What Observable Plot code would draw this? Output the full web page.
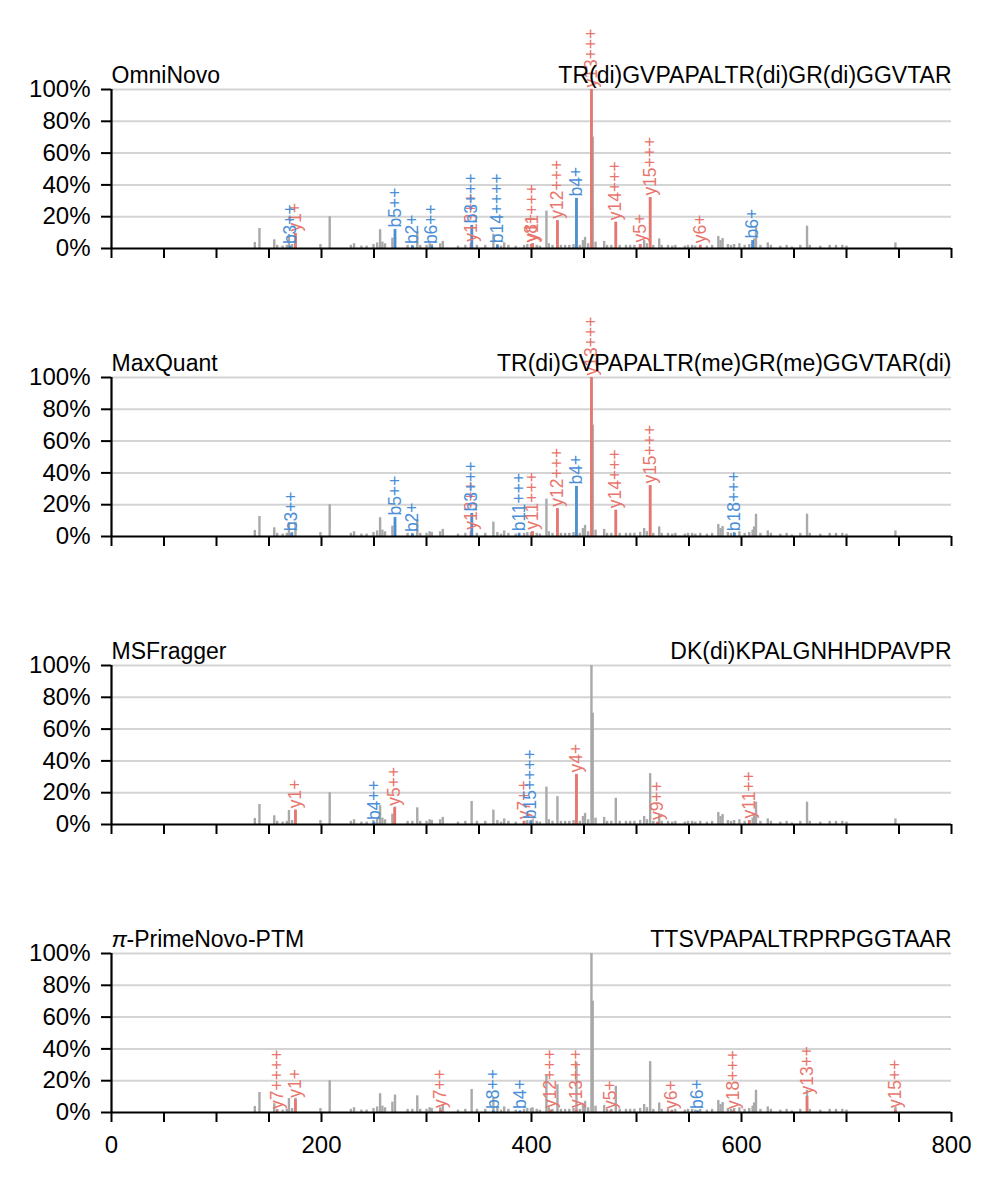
<!DOCTYPE html>
<html>
<head>
<meta charset="utf-8">
<script src="https://cdn.jsdelivr.net/npm/d3@7"></script>
<script src="https://cdn.jsdelivr.net/npm/@observablehq/plot@0.6"></script>
<style>
  body { margin: 0; background: #fff; }
  #chart svg { display: block; }
</style>
</head>
<body>
<div id="chart"></div>
<script>
// ---- shared (gray) spectrum: m/z and relative intensity (%) ----
const grayMz = [136.5,140.9,155.0,157.8,163.0,167.0,169.0,172.0,175.2,199.0,207.8,228.0,231.0,238.0,243.0,249.5,253.0,255.8,258.0,260.5,267.5,270.0,282.0,286.5,291.2,294.0,300.0,303.0,305.0,313.0,315.5,330.0,337.0,343.0,348.0,356.0,363.7,367.5,371.0,374.0,378.0,385.0,392.9,396.0,399.5,401.0,405.0,408.0,414.2,416.5,420.0,424.7,428.0,432.0,436.0,440.0,442.8,446.0,449.0,451.0,454.0,457.1,458.3,461.0,469.2,472.0,476.0,480.3,484.0,490.0,494.0,498.0,503.5,507.3,510.0,513.0,516.0,521.6,524.0,530.0,534.0,537.0,546.0,549.0,553.0,556.0,560.7,567.0,572.0,577.9,580.0,582.0,587.0,590.0,593.0,598.0,603.0,607.4,610.6,612.0,613.8,618.0,625.0,628.0,637.0,643.0,648.0,656.0,662.4,665.0,675.0,684.0,690.0,696.0,700.0,746.6];
const grayInt = [3.8,12.6,5.5,2,1.5,2,8.8,2.5,9,2.5,20,2,3,1.5,1.5,2.5,3.5,11.8,4,3,6.5,11,2,2,10.5,2,2,3,2.5,3,4.5,1.5,2,14.5,2,2,9,2.5,1.5,3.5,2,1.5,2,2.5,2.5,3,2,1.5,23.5,3,2,17.5,2,2,2,2.5,31.5,2,5,7,3,100,70,4,4.5,2,2,16.5,2,2,2,2,2.5,5,3,32,2,6,2,2,1.5,2,1.5,2,2,1.5,2,1.5,2,7.5,5,6.3,2.5,2,2.5,3,2,2.5,4,6,14,2,3.5,2,1.5,2,1,2,14,2,1.5,2,2,2,1.5,3.5];

// ---- panel titles ----
const tools = ["OmniNovo", "MaxQuant", "MSFragger", "π-PrimeNovo-PTM"];
const peptides = ["TR(di)GVPAPALTR(di)GR(di)GGVTAR", "TR(di)GVPAPALTR(me)GR(me)GGVTAR(di)", "DK(di)KPALGNHHDPAVPR", "TTSVPAPALTRPRPGGTAAR"];

// ---- annotated fragment ions per panel ----
const p1Label = ["b3++","y1+","b5++","b2+","b6++","y13++","b3+++","b14++++","y8+","y11+++","y12+++","b4+","y13+++","y14+++","y5+","y15+++","y6+","b6+"];
const p1Mz    = [170.0,175.2,270.0,286.5,305.0,342.4,343.2,367.5,400.3,401.0,424.7,442.8,457.1,480.3,503.5,513.0,560.7,610.6];
const p1Int   = [1.5,9.5,12,1.5,1.5,3,14.5,2,2.5,3,17.5,31.5,100,16.5,2.5,32,2,5];

const p2Label = ["b3++","b5++","b2+","y13++","b3+++","b11+++","y11+++","y12+++","b4+","y13+++","y14+++","y15+++","b18+++"];
const p2Mz    = [171.5,270.0,286.5,342.4,343.2,388.2,400.9,424.7,442.8,457.1,480.3,513.0,593.2];
const p2Int   = [2,12,1.5,3,14.5,2,3,17.5,31.5,100,16.5,32,2];

const p3Label = ["y1+","b4++","y5++","y7++","b15++++","y4+","y9++","y11++"];
const p3Mz    = [175.2,249.9,269.6,392.9,399.3,442.8,520.0,607.4];
const p3Int   = [9,1.5,10.5,2,2,31.5,1.5,2.5];

const p4Label = ["y7++++","y1+","y7++","b8++","b4+","y12+++","y13+++","y5+","y6+","b6+","y18+++","y13++","y15++"];
const p4Mz    = [157.8,175.2,313.5,363.7,389.0,418.3,442.8,475.5,533.4,558.2,592.5,662.4,746.6];
const p4Int   = [1,8,1.5,1,1,1.5,1.5,1,1,1,1,10,1.5];

const xTicks = [0,50,100,150,200,250,300,350,400,450,500,550,600,650,700,750,800];
const yTicks = [0,20,40,60,80,100];

const RED = "#e8766d", BLUE = "#4a8fd8", GRAY = "#a9a9a9", GRID = "#d4d4d4";
const FONT = "'Liberation Sans', Arial, Helvetica, sans-serif";

const gray = grayMz.map((mz, k) => ({mz, int: grayInt[k]}));
const annots = [[p1Label,p1Mz,p1Int],[p2Label,p2Mz,p2Int],[p3Label,p3Mz,p3Int],[p4Label,p4Mz,p4Int]]
  .map(([L, M, I]) => L.map((label, k) => ({label, mz: M[k], int: I[k], ion: label[0]})));

function panel(i) {
  const last = i === 3;
  const ann = annots[i];
  const bIons = ann.filter(d => d.ion === "b");
  const yIons = ann.filter(d => d.ion === "y");
  const titleMarks = i === 3
    ? [
        Plot.text(["π"], {text: d => d, frameAnchor: "top-left", textAnchor: "start", lineAnchor: "bottom", dy: -7, fontSize: 23, fontStyle: "italic", fill: "black"}),
        Plot.text(["-PrimeNovo-PTM"], {text: d => d, frameAnchor: "top-left", textAnchor: "start", lineAnchor: "bottom", dx: 15, dy: -7, fontSize: 23, fill: "black"})
      ]
    : [Plot.text([tools[i]], {text: d => d, frameAnchor: "top-left", textAnchor: "start", lineAnchor: "bottom", dy: -7, fontSize: 23, fill: "black"})];
  return Plot.plot({
    width: 998,
    height: last ? 320 : 288,
    marginLeft: 111,
    marginRight: 47,
    marginTop: 89,
    marginBottom: last ? 72 : 40,
    style: {fontFamily: FONT, fontSize: "23px", background: "white", overflow: "visible"},
    x: {domain: [0, 800]},
    y: {domain: [0, 100]},
    marks: [
      Plot.gridY({ticks: [20,40,60,80,100], stroke: GRID, strokeWidth: 2, strokeOpacity: 1}),
      Plot.ruleX(gray, {x: "mz", y1: 0, y2: "int", stroke: GRAY, strokeWidth: 2.4}),
      Plot.ruleX(yIons, {x: "mz", y1: 0, y2: "int", stroke: RED, strokeWidth: 2.7}),
      Plot.ruleX(bIons, {x: "mz", y1: 0, y2: "int", stroke: BLUE, strokeWidth: 2.7}),
      Plot.text(yIons, {x: "mz", y: "int", text: "label", rotate: -90, textAnchor: "start", dy: -2, fill: RED, fontSize: 17.5}),
      Plot.text(bIons, {x: "mz", y: "int", text: "label", rotate: -90, textAnchor: "start", dy: -2, fill: BLUE, fontSize: 17.5}),
      Plot.axisY({ticks: yTicks, tickFormat: d => d + "%", tickSize: 10, tickPadding: 11, strokeWidth: 2, fontSize: 24, label: null, fill: "black"}),
      Plot.axisX({ticks: xTicks, tickFormat: last ? (d => d % 200 === 0 ? String(d) : "") : (() => ""), tickSize: 10, tickPadding: 13, strokeWidth: 2, fontSize: 24, label: null, fill: "black"}),
      Plot.ruleY([0], {stroke: "black", strokeWidth: 2.2}),
      Plot.ruleX([0], {y1: 0, y2: 100, stroke: "black", strokeWidth: 2.2}),
      ...titleMarks,
      Plot.text([peptides[i]], {text: d => d, frameAnchor: "top-right", textAnchor: "end", lineAnchor: "bottom", dy: -7, fontSize: 23, fill: "black"})
    ]
  });
}

const chart = document.getElementById("chart");
for (let i = 0; i < 4; i++) chart.appendChild(panel(i));
</script>
</body>
</html>
